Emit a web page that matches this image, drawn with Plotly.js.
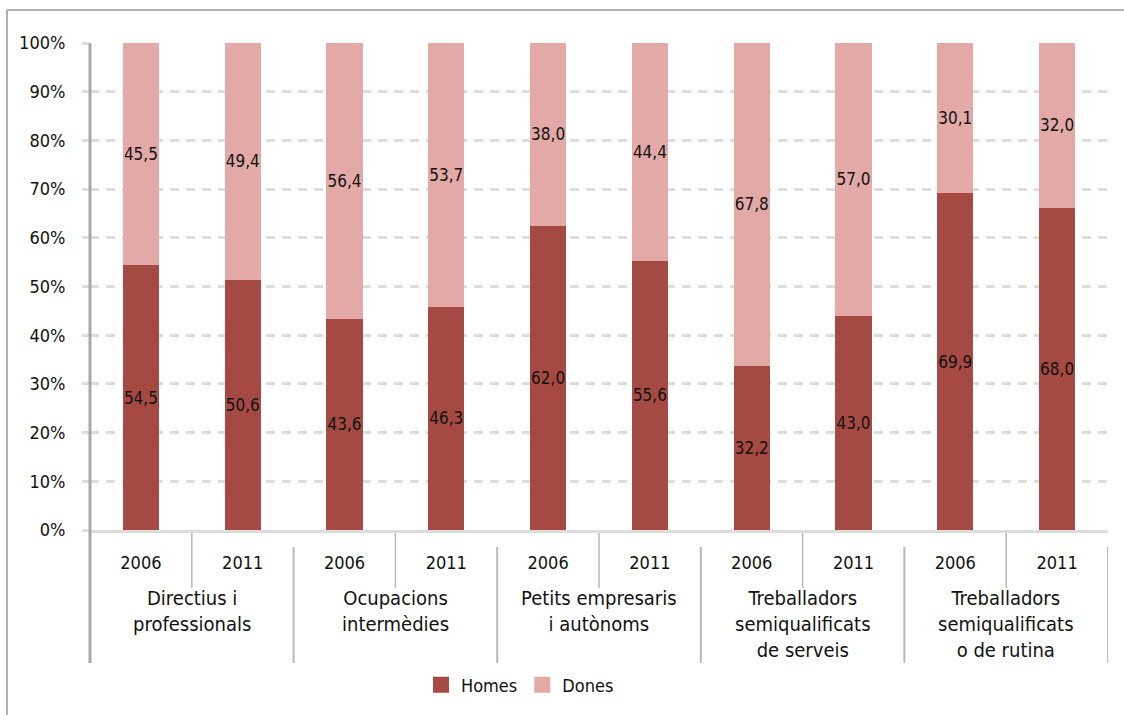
<!DOCTYPE html>
<html>
<head>
<meta charset="utf-8">
<script src="https://cdn.plot.ly/plotly-3.0.1.min.js"></script>
<style>html,body{margin:0;padding:0;background:#fff;}#chart{width:1124px;height:715px;}</style>
</head>
<body>
<div id="chart"></div>
<script>
const groups = ["Directius i<br>professionals", "Ocupacions<br>intermèdies", "Petits empresaris<br>i autònoms", "Treballadors<br>semiqualificats<br>de serveis", "Treballadors<br>semiqualificats<br>o de rutina"];
const years = ["2006", "2011", "2006", "2011", "2006", "2011", "2006", "2011", "2006", "2011"];
const homes = [54.4, 51.4, 43.4, 45.8, 62.5, 55.3, 33.7, 44.0, 69.2, 66.2];
const dones = [45.6, 48.6, 56.6, 54.2, 37.5, 44.7, 66.3, 56.0, 30.8, 33.8];
const homesLabels = ["54,5", "50,6", "43,6", "46,3", "62,0", "55,6", "32,2", "43,0", "69,9", "68,0"];
const donesLabels = ["45,5", "49,4", "56,4", "53,7", "38,0", "44,4", "67,8", "57,0", "30,1", "32,0"];
const yTicks = [0, 10, 20, 30, 40, 50, 60, 70, 80, 90, 100];

const FONT = "'Liberation Sans Narrow', 'DejaVu Sans Condensed', 'Arial Narrow', sans-serif";
const C_H = "#a54a43", C_D = "#e2a9a7";
const idx = years.map((_, i) => i);

const barCommon = {
  type: "bar", x: idx, textposition: "inside", insidetextanchor: "middle",
  textangle: 0, constraintext: "none", showlegend: false, hoverinfo: "skip",
  textfont: {family: FONT, size: 17, color: "#111"}
};
const traces = [
  Object.assign({}, barCommon, {name: "Homes", y: homes, text: homesLabels, marker: {color: C_H}}),
  Object.assign({}, barCommon, {name: "Dones", y: dones, text: donesLabels, marker: {color: C_D}}),
  {type: "scatter", mode: "markers", x: [null], y: [null], name: "Homes", marker: {symbol: "square", size: 20, color: C_H}, showlegend: true},
  {type: "scatter", mode: "markers", x: [null], y: [null], name: "Dones", marker: {symbol: "square", size: 20, color: C_D}, showlegend: true}
];

// plot area geometry in paper units
const plotTop = 43, plotBottom = 530;
const ph = plotBottom - plotTop;
const py = px => (plotBottom - px) / ph;

const shapes = [];
// y-axis line extended down through the label area
shapes.push({type: "line", xref: "paper", yref: "paper", x0: 0, x1: 0, y0: 1, y1: py(663), line: {color: "#a8a8a8", width: 3}});
// short dividers between years, long dividers between groups
for (let g = 0; g < groups.length; g++) {
  shapes.push({type: "line", xref: "x", yref: "paper", x0: 2 * g + 0.5, x1: 2 * g + 0.5, y0: py(533), y1: py(588), line: {color: "#b8b8b8", width: 1.5}});
  shapes.push({type: "line", xref: "x", yref: "paper", x0: 2 * g + 1.5, x1: 2 * g + 1.5, y0: py(547), y1: py(663), line: {color: "#b8b8b8", width: 2}});
}
// outer frame (top and left)
shapes.push({type: "line", xref: "paper", yref: "paper", x0: -83 / 1018, x1: 1034 / 1018, y0: py(10), y1: py(10), line: {color: "#b0b0b0", width: 2}});
shapes.push({type: "line", xref: "paper", yref: "paper", x0: -83 / 1018, x1: -83 / 1018, y0: py(10), y1: py(716), line: {color: "#b0b0b0", width: 2}});

const annotations = groups.map((g, i) => ({
  xref: "x", yref: "paper", x: 2 * i + 0.5, y: py(584), yanchor: "top", xanchor: "center",
  text: g, showarrow: false, align: "center", font: {family: FONT, size: 20, color: "#111"}
}));

const layout = {
  width: 1124, height: 715,
  margin: {l: 90, r: 16, t: plotTop, b: 715 - plotBottom},
  paper_bgcolor: "#fff", plot_bgcolor: "#fff",
  barmode: "stack", bargap: 0.645,
  font: {family: FONT, color: "#111"},
  xaxis: {
    range: [-0.5, 9.5], tickmode: "array", tickvals: idx, ticktext: years,
    showgrid: false, zeroline: false, showline: true, linecolor: "#dcdcdc", linewidth: 3,
    ticks: "", ticklabelstandoff: 14, tickfont: {family: FONT, size: 18, color: "#111"}, fixedrange: true
  },
  yaxis: {
    range: [0, 100], tickmode: "array", tickvals: yTicks, ticktext: yTicks.map(v => v + "%"),
    showgrid: true, gridcolor: "#dcdcdc", gridwidth: 3, griddash: "9px,7px",
    zeroline: false, showline: false, ticks: "outside", ticklen: 7, tickwidth: 3, tickcolor: "#dcdcdc",
    ticklabelstandoff: 13, tickfont: {family: FONT, size: 18, color: "#111"}, fixedrange: true
  },
  showlegend: true,
  legend: {orientation: "h", traceorder: "normal", x: (421 - 90) / 1018, xanchor: "left", y: py(685), yanchor: "middle",
           font: {family: FONT, size: 18, color: "#111"}, itemwidth: 30, bgcolor: "rgba(0,0,0,0)"},
  shapes: shapes, annotations: annotations
};
Plotly.newPlot("chart", traces, layout, {staticPlot: true, displayModeBar: false});
</script>
</body>
</html>
